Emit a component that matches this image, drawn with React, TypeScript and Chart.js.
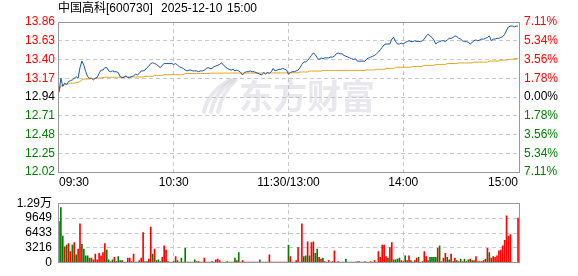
import React, { useEffect, useRef } from "react";
import { Chart, registerables } from "chart.js";

Chart.register(...registerables);

const FONT = '"Liberation Sans", Arial, "Noto Sans CJK SC", sans-serif';

const titleName = "中国高科[600730]";
const titleDate = "2025-12-10";
const titleTime = "15:00";
const watermarkText = "东方财富";

const timeTickIndex = [0, 60, 120, 180, 240];
const timeLabels = ["09:30", "10:30", "11:30/13:00", "14:00", "15:00"];

const prevClose = 12.94;
const priceTicks = [12.02, 12.25, 12.48, 12.71, 12.94, 13.17, 13.4, 13.63, 13.86];
const pctLabels = ["7.11%", "5.34%", "3.56%", "1.78%", "0.00%", "1.78%", "3.56%", "5.34%", "7.11%"];

const volTicks = [0, 3216, 6433, 9649, 12866];
const volTickLabels = ["0", "3216", "6433", "9649", "1.29万"];

const prices = [
  13.00, 13.17, 13.07, 13.11, 13.09, 13.13, 13.14, 13.15, 13.17, 13.19,
  13.17, 13.30, 13.38, 13.33, 13.25, 13.19, 13.17, 13.17, 13.15, 13.17,
  13.18, 13.23, 13.27, 13.27, 13.30, 13.30, 13.26, 13.25, 13.26, 13.25,
  13.25, 13.24, 13.19, 13.18, 13.18, 13.20, 13.18, 13.18, 13.19, 13.20,
  13.22, 13.21, 13.23, 13.26, 13.26, 13.27, 13.30, 13.32, 13.35, 13.36,
  13.35, 13.34, 13.32, 13.30, 13.33, 13.35, 13.35, 13.35, 13.35, 13.35,
  13.34, 13.35, 13.33, 13.31, 13.30, 13.29, 13.27, 13.26, 13.27, 13.27,
  13.26, 13.26, 13.26, 13.25, 13.26, 13.26, 13.27, 13.29, 13.30, 13.29,
  13.29, 13.31, 13.32, 13.33, 13.34, 13.36, 13.33, 13.31, 13.29, 13.28,
  13.27, 13.28, 13.26, 13.27, 13.26, 13.24, 13.21, 13.24, 13.25, 13.25,
  13.26, 13.25, 13.25, 13.24, 13.23, 13.22, 13.21, 13.24, 13.22, 13.24,
  13.23, 13.25, 13.29, 13.26, 13.27, 13.28, 13.28, 13.29, 13.28, 13.27,
  13.22, 13.24, 13.25, 13.25, 13.26, 13.27, 13.30, 13.34, 13.37, 13.37,
  13.39, 13.42, 13.45, 13.48, 13.46, 13.42, 13.40, 13.42, 13.41, 13.42,
  13.42, 13.42, 13.43, 13.43, 13.44, 13.47, 13.48, 13.47, 13.47, 13.45,
  13.44, 13.43, 13.42, 13.41, 13.40, 13.41, 13.38, 13.38, 13.38, 13.38,
  13.38, 13.41, 13.42, 13.43, 13.44, 13.45, 13.47, 13.49, 13.52, 13.55,
  13.58, 13.59, 13.59, 13.59, 13.65, 13.67, 13.62, 13.59, 13.59, 13.60,
  13.59, 13.61, 13.62, 13.63, 13.62, 13.62, 13.63, 13.62, 13.62, 13.62,
  13.63, 13.65, 13.69, 13.71, 13.69, 13.67, 13.64, 13.59, 13.61, 13.62,
  13.63, 13.63, 13.62, 13.64, 13.66, 13.66, 13.67, 13.69, 13.68, 13.66,
  13.65, 13.63, 13.62, 13.62, 13.61, 13.59, 13.61, 13.63, 13.64, 13.63,
  13.64, 13.65, 13.65, 13.66, 13.67, 13.69, 13.63, 13.65, 13.65, 13.66,
  13.66, 13.67, 13.68, 13.71, 13.76, 13.80, 13.81, 13.81, 13.80, 13.81,
  13.81,
];

const avgPrices = [
  13.000, 13.080, 13.080, 13.090, 13.100, 13.100, 13.110, 13.110, 13.110, 13.120,
  13.120, 13.130, 13.150, 13.160, 13.160, 13.160, 13.163, 13.165, 13.168, 13.170,
  13.170, 13.172, 13.175, 13.178, 13.182, 13.182, 13.182, 13.182, 13.182, 13.182,
  13.182, 13.182, 13.182, 13.182, 13.186, 13.186, 13.186, 13.186, 13.186, 13.186,
  13.186, 13.186, 13.186, 13.186, 13.186, 13.194, 13.194, 13.194, 13.194, 13.194,
  13.205, 13.205, 13.205, 13.205, 13.205, 13.214, 13.214, 13.214, 13.214, 13.214,
  13.214, 13.214, 13.214, 13.214, 13.214, 13.214, 13.228, 13.228, 13.228, 13.228,
  13.228, 13.228, 13.228, 13.228, 13.228, 13.228, 13.228, 13.228, 13.228, 13.232,
  13.232, 13.232, 13.232, 13.233, 13.233, 13.233, 13.233, 13.233, 13.233, 13.233,
  13.234, 13.234, 13.234, 13.234, 13.234, 13.234, 13.234, 13.234, 13.234, 13.234,
  13.234, 13.234, 13.234, 13.234, 13.234, 13.234, 13.234, 13.234, 13.234, 13.234,
  13.235, 13.235, 13.235, 13.235, 13.235, 13.235, 13.235, 13.235, 13.235, 13.235,
  13.236, 13.236, 13.237, 13.237, 13.238, 13.238, 13.247, 13.247, 13.247, 13.247,
  13.247, 13.258, 13.258, 13.258, 13.258, 13.258, 13.258, 13.258, 13.266, 13.266,
  13.266, 13.266, 13.266, 13.266, 13.266, 13.266, 13.266, 13.266, 13.266, 13.266,
  13.266, 13.266, 13.266, 13.266, 13.266, 13.266, 13.266, 13.266, 13.266, 13.266,
  13.266, 13.272, 13.272, 13.272, 13.272, 13.272, 13.280, 13.280, 13.280, 13.280,
  13.280, 13.290, 13.290, 13.290, 13.290, 13.290, 13.305, 13.305, 13.305, 13.305,
  13.305, 13.305, 13.305, 13.305, 13.305, 13.315, 13.315, 13.315, 13.315, 13.315,
  13.315, 13.328, 13.328, 13.328, 13.328, 13.328, 13.328, 13.338, 13.338, 13.338,
  13.338, 13.338, 13.338, 13.350, 13.350, 13.350, 13.350, 13.350, 13.350, 13.358,
  13.358, 13.358, 13.358, 13.358, 13.358, 13.358, 13.358, 13.368, 13.368, 13.368,
  13.368, 13.368, 13.368, 13.368, 13.368, 13.380, 13.380, 13.380, 13.380, 13.380,
  13.380, 13.392, 13.392, 13.392, 13.392, 13.402, 13.402, 13.402, 13.410, 13.410,
  13.410,
];

const volumes = [
  8900, 11900, 5750, 3470, 3820, 4170, 2410, 3820, 4350, 1700,
  2940, 8400, 4000, 2940, 1530, 1530, 1000, 1000, 650, 1880,
  650, 2060, 1530, 2230, 4170, 2760, 650, 290, 650, 1170,
  290, 1350, 470, 470, 150, 150, 1000, 1000, 290, 1880,
  150, 150, 470, 1000, 6520, 290, 290, 820, 7700, 1880,
  2940, 470, 650, 290, 1170, 3640, 2760, 290, 150, 150,
  290, 1350, 470, 150, 1000, 150, 3110, 150, 150, 150,
  150, 650, 290, 290, 150, 150, 1000, 150, 150, 150,
  290, 150, 650, 820, 470, 150, 150, 150, 290, 150,
  150, 150, 1000, 470, 2230, 150, 470, 150, 150, 150,
  150, 150, 150, 150, 150, 650, 150, 150, 150, 150,
  1700, 150, 150, 150, 150, 150, 150, 150, 150, 150,
  3820, 1350, 150, 150, 470, 3290, 150, 8400, 1350, 1530,
  4520, 1530, 4350, 4520, 2060, 2940, 1170, 820, 1000, 290,
  150, 470, 150, 290, 2580, 150, 290, 150, 150, 150,
  820, 150, 150, 150, 150, 150, 290, 290, 150, 150,
  290, 150, 150, 290, 150, 470, 150, 2410, 1170, 3820,
  3820, 1350, 1000, 3290, 4350, 650, 650, 820, 1000, 470,
  290, 1530, 470, 1530, 470, 150, 470, 1000, 1170, 150,
  290, 2410, 1350, 470, 1170, 1170, 1170, 1170, 3110, 3640,
  290, 1000, 2060, 1170, 650, 1880, 290, 1000, 470, 290,
  820, 290, 820, 290, 650, 820, 470, 470, 1350, 290,
  290, 290, 470, 820, 3110, 2230, 1000, 1350, 1170, 1530,
  2580, 2760, 3640, 4870, 10160, 5750, 6110, 150, 0, 0,
  9640,
];

// 1 = up minute (red), -1 = down minute (green)
const volDir = [
  1, -1, -1, 1, -1, 1, 1, -1, 1, -1,
  1, 1, -1, -1, -1, -1, 1, -1, 1, 1,
  1, 1, 1, 1, 1, -1, -1, 1, -1, 1,
  -1, -1, -1, 1, -1, -1, 1, 1, 1, 1,
  -1, -1, 1, 1, 1, -1, 1, 1, 1, -1,
  1, -1, -1, -1, 1, 1, 1, -1, 1, -1,
  -1, 1, -1, -1, -1, 1, -1, 1, 1, 1,
  1, -1, 1, 1, -1, 1, 1, -1, -1, 1,
  1, -1, 1, 1, 1, -1, -1, 1, -1, -1,
  1, 1, -1, 1, -1, 1, 1, 1, 1, 1,
  1, 1, 1, 1, 1, -1, 1, -1, -1, -1,
  1, 1, 1, 1, 1, 1, 1, 1, 1, 1,
  -1, 1, 1, 1, 1, 1, -1, 1, -1, -1,
  1, -1, 1, 1, -1, -1, 1, 1, -1, 1,
  -1, 1, -1, 1, 1, -1, 1, -1, -1, -1,
  -1, -1, -1, -1, -1, -1, 1, 1, -1, -1,
  1, -1, -1, 1, -1, 1, -1, 1, 1, 1,
  1, 1, -1, 1, 1, -1, -1, -1, -1, 1,
  1, -1, 1, 1, -1, -1, 1, 1, -1, 1,
  1, 1, 1, -1, -1, -1, -1, -1, 1, -1,
  1, 1, 1, -1, -1, 1, 1, 1, -1, 1,
  -1, 1, -1, 1, -1, 1, -1, 1, 1, -1,
  1, 1, 1, -1, 1, -1, 1, 1, 1, 1,
  1, 1, 1, 1, 1, 1, 1, -1, 1, 1,
  1,
];

const RED = "#ff0000";
const GREEN = "#008000";
const GRID = "#c8c8c8";
const FRAME = "#999999";

const tickColor = (v: number) =>
  v > prevClose + 1e-6 ? RED : v < prevClose - 1e-6 ? GREEN : "#000000";

const drawFrame = (chart: any) => {
  const { ctx, chartArea: a } = chart;
  ctx.save();
  ctx.strokeStyle = FRAME;
  ctx.lineWidth = 1;
  ctx.setLineDash([]);
  const l = Math.floor(a.left) + 0.5;
  const t = Math.floor(a.top) + 0.5;
  const r = Math.floor(a.right) + 0.5;
  const b = Math.floor(a.bottom) + 0.5;
  ctx.strokeRect(l, t, r - l, b - t);
  ctx.restore();
};

// dashed grid drawn from the chart's own scales
const drawDashedGrid = (chart: any, yTicks: number[]) => {
  const { ctx, chartArea: a, scales } = chart;
  ctx.save();
  ctx.strokeStyle = GRID;
  ctx.lineWidth = 1;
  ctx.setLineDash([4, 3]);
  timeTickIndex.slice(1, -1).forEach((v) => {
    const px = Math.floor(scales.x.getPixelForValue(v)) + 0.5;
    ctx.beginPath();
    ctx.moveTo(px, a.top);
    ctx.lineTo(px, a.bottom);
    ctx.stroke();
  });
  yTicks.slice(1, -1).forEach((v) => {
    const py = Math.floor(scales.y.getPixelForValue(v)) + 0.5;
    ctx.beginPath();
    ctx.moveTo(a.left, py);
    ctx.lineTo(a.right, py);
    ctx.stroke();
  });
  ctx.restore();
};

const pricePlugin = {
  id: "priceDecor",
  beforeDatasetsDraw(chart: any) {
    drawDashedGrid(chart, priceTicks);
    const { ctx, chartArea: a } = chart;
    ctx.save();
    ctx.fillStyle = "rgba(190,190,200,0.35)";
    ctx.strokeStyle = "rgba(190,190,200,0.35)";
    ctx.lineWidth = 4;
    ctx.lineCap = "round";
    for (let k = 0; k < 3; k++) {
      ctx.beginPath();
      ctx.moveTo(a.left + 146 + k * 7, a.top + 90);
      ctx.quadraticCurveTo(a.left + 150 + k * 7, a.top + 70, a.left + 172 + k * 3, a.top + 58);
      ctx.stroke();
    }
    ctx.font = 'bold 34px "Noto Sans CJK SC", sans-serif';
    ctx.textBaseline = "middle";
    ctx.textAlign = "left";
    ctx.fillText(watermarkText, a.left + 181, a.top + 74);
    ctx.restore();
  },
  afterDraw(chart: any) {
    drawFrame(chart);
    const { ctx } = chart;
    ctx.save();
    ctx.fillStyle = "#000";
    ctx.font = "12px " + FONT;
    ctx.textBaseline = "middle";
    ctx.textAlign = "left";
    ctx.fillText(titleName, 58, 9);
    ctx.fillText(titleDate, 161, 9);
    ctx.fillText(titleTime, 227, 9);
    ctx.restore();
  },
};

const volPlugin = {
  id: "volDecor",
  beforeDatasetsDraw(chart: any) {
    drawDashedGrid(chart, volTicks);
  },
  afterDraw(chart: any) {
    drawFrame(chart);
  },
};

export default function App() {
  const pRef = useRef<HTMLCanvasElement>(null);
  const vRef = useRef<HTMLCanvasElement>(null);

  useEffect(() => {
    Chart.defaults.font.family = FONT;
    Chart.defaults.font.size = 12;

    const priceChart = new Chart(pRef.current as HTMLCanvasElement, {
      type: "line",
      data: {
        datasets: [
          {
            label: "price",
            data: prices.map((p, i) => ({ x: i, y: p })),
            borderColor: "#1a55a6",
            borderWidth: 1,
            pointRadius: 0,
            tension: 0,
            yAxisID: "y",
          },
          {
            label: "avg",
            data: avgPrices.map((p, i) => ({ x: i, y: p })),
            borderColor: "#e3a21a",
            borderWidth: 1,
            pointRadius: 0,
            tension: 0,
            yAxisID: "y",
          },
        ],
      },
      options: {
        responsive: false,
        animation: false,
        devicePixelRatio: 1,
        layout: { padding: { top: 22, left: 0, right: 0, bottom: 0 } },
        plugins: { legend: { display: false }, tooltip: { enabled: false } },
        events: [],
        scales: {
          x: {
            type: "linear",
            min: -0.5,
            max: 240.5,
            afterBuildTicks: (s: any) => {
              s.ticks = timeTickIndex.map((v) => ({ value: v }));
            },
            afterFit: (s: any) => {
              s.height = 18;
            },
            ticks: {
              autoSkip: false,
              maxRotation: 0,
              align: "inner",
              padding: 3,
              color: "#000",
              font: { family: FONT, size: 12 },
              callback: (_v: any, i: number) => timeLabels[i],
            },
            grid: { display: false, drawTicks: false },
            border: { display: false },
          },
          y: {
            type: "linear",
            position: "left",
            min: priceTicks[0],
            max: priceTicks[priceTicks.length - 1],
            afterBuildTicks: (s: any) => {
              s.ticks = priceTicks.map((v) => ({ value: v }));
            },
            afterFit: (s: any) => {
              s.width = 58;
            },
            ticks: {
              autoSkip: false,
              padding: 3,
              font: { family: FONT, size: 12 },
              color: (c: any) => tickColor(priceTicks[c.index]),
              callback: (_v: any, i: number) => priceTicks[i].toFixed(2),
            },
            grid: { display: false, drawTicks: false },
            border: { display: false },
          },
          y2: {
            type: "linear",
            position: "right",
            min: priceTicks[0],
            max: priceTicks[priceTicks.length - 1],
            afterBuildTicks: (s: any) => {
              s.ticks = priceTicks.map((v) => ({ value: v }));
            },
            afterFit: (s: any) => {
              s.width = 59;
            },
            ticks: {
              autoSkip: false,
              padding: 5,
              font: { family: FONT, size: 12 },
              color: (c: any) => tickColor(priceTicks[c.index]),
              callback: (_v: any, i: number) => pctLabels[i],
            },
            grid: { display: false, drawTicks: false },
            border: { display: false },
          },
        },
      },
      plugins: [pricePlugin],
    } as any);

    const volChart = new Chart(vRef.current as HTMLCanvasElement, {
      type: "bar",
      data: {
        datasets: [
          {
            label: "volume",
            data: volumes.map((v, i) => ({ x: i, y: v })),
            backgroundColor: volDir.map((d) => (d > 0 ? RED : GREEN)),
            borderWidth: 0,
            barThickness: 1,
          },
        ],
      },
      options: {
        responsive: false,
        animation: false,
        devicePixelRatio: 1,
        layout: { padding: { top: 6, left: 0, right: 59, bottom: 6 } },
        plugins: { legend: { display: false }, tooltip: { enabled: false } },
        events: [],
        scales: {
          x: {
            type: "linear",
            min: -0.5,
            max: 240.5,
            offset: false,
            afterBuildTicks: (s: any) => {
              s.ticks = timeTickIndex.map((v) => ({ value: v }));
            },
            afterFit: (s: any) => {
              s.height = 0;
            },
            ticks: { display: false },
            grid: { display: false, drawTicks: false },
            border: { display: false },
          },
          y: {
            type: "linear",
            position: "left",
            min: volTicks[0],
            max: volTicks[volTicks.length - 1],
            afterBuildTicks: (s: any) => {
              s.ticks = volTicks.map((v) => ({ value: v }));
            },
            afterFit: (s: any) => {
              s.width = 58;
            },
            ticks: {
              autoSkip: false,
              padding: 6,
              color: "#000",
              font: { family: FONT, size: 12 },
              callback: (_v: any, i: number) => volTickLabels[i],
            },
            grid: { display: false, drawTicks: false },
            border: { display: false },
          },
        },
      },
      plugins: [volPlugin],
    } as any);

    return () => {
      priceChart.destroy();
      volChart.destroy();
    };
  }, []);

  return (
    <div
      style={{
        position: "fixed",
        left: 0,
        top: 0,
        width: 578,
        height: 276,
        background: "#ffffff",
        overflow: "hidden",
      }}
    >
      <canvas
        ref={pRef}
        width={578}
        height={190}
        style={{ position: "absolute", left: 0, top: 0, width: 578, height: 190 }}
      />
      <canvas
        ref={vRef}
        width={578}
        height={86}
        style={{ position: "absolute", left: 0, top: 190, width: 578, height: 86 }}
      />
    </div>
  );
}
